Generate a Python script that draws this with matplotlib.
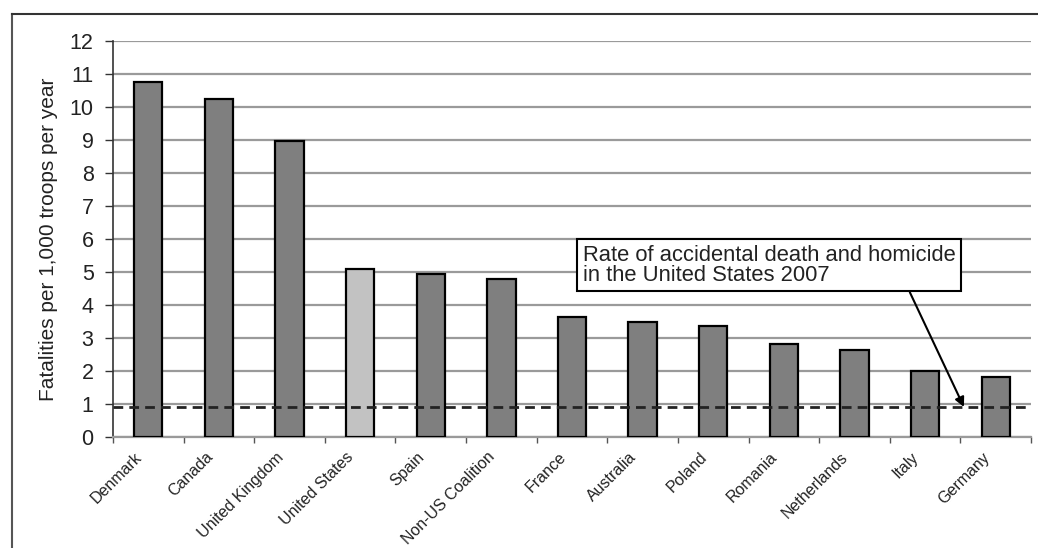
import matplotlib
matplotlib.use("Agg")
import matplotlib.pyplot as plt
from matplotlib.lines import Line2D
import matplotlib.transforms as mtransforms
import numpy as np

categories = ["Denmark", "Canada", "United Kingdom", "United States", "Spain",
              "Non-US Coalition", "France", "Australia", "Poland", "Romania",
              "Netherlands", "Italy", "Germany"]
values = [10.77, 10.24, 8.96, 5.10, 4.93, 4.79, 3.64, 3.48, 3.36, 2.82, 2.64, 2.00, 1.83]
highlight = "United States"
reference_rate = 0.91
yticks = list(range(0, 13))
ylabel = "Fatalities per 1,000 troops per year"
note = "Rate of accidental death and homicide\nin the United States 2007"

plt.rcParams['font.family'] = ['Liberation Sans', 'DejaVu Sans']

fig = plt.figure(figsize=(10.38, 5.48), dpi=100)
ax = fig.add_axes([113/1038, 1-437/548, (1031-113)/1038, (437-41)/548])

x = np.arange(len(categories))
colors = ['#c2c2c2' if c == highlight else '#7f7f7f' for c in categories]
ax.bar(x, values, width=0.4, color=colors, edgecolor='black', linewidth=1.6, zorder=3)

ax.set_xlim(-0.5, len(categories) - 0.5)
ax.set_ylim(0, 12)
ax.set_yticks(yticks)
ax.set_yticklabels([str(t) for t in yticks], fontsize=15.5, color='#222222')
ax.yaxis.grid(True, color='#9a9a9a', linewidth=1.6, zorder=0)
ax.set_axisbelow(True)

ax.set_xticks(x)
ax.set_xticklabels(categories, rotation=45, ha='right', rotation_mode='anchor',
                   fontsize=11.5, color='#222222')
ax.tick_params(axis='x', length=0, pad=9)
offset = mtransforms.ScaledTranslation(-14/100, 0, fig.dpi_scale_trans)
for lab in ax.get_xticklabels():
    lab.set_transform(lab.get_transform() + offset)
ax.set_xticks(np.arange(-0.5, len(categories) + 0.5, 1), minor=True)
ax.tick_params(axis='x', which='minor', length=4, width=1, color='#555555', direction='out')
ax.tick_params(axis='y', length=6, width=1, color='#333333', pad=8)

for s in ['top', 'right']:
    ax.spines[s].set_visible(False)
ax.spines['bottom'].set_color('#9a9a9a')
ax.spines['bottom'].set_linewidth(1.6)
ax.spines['left'].set_color('#333333')
ax.spines['left'].set_linewidth(1.2)

ax.set_ylabel(ylabel, fontsize=15, color='#222222', labelpad=8)

ax.axhline(reference_rate, color='#222222', linestyle=(0, (3.5, 2.2)), linewidth=2, zorder=4)

ax.annotate(note, xy=(11.55, reference_rate), xytext=(6.15, 5.2),
            fontsize=15.8, color='#222222', ha='left', va='center', linespacing=0.95,
            bbox=dict(boxstyle='square,pad=0.25', fc='white', ec='black', lw=1.5),
            arrowprops=dict(arrowstyle='-|>', color='black', lw=1.5,
                            mutation_scale=14, shrinkA=0, shrinkB=0,
                            relpos=(0.87, 0.0)),
            zorder=5)

fig.add_artist(Line2D([12/1038, 12/1038], [0, 1-14/548], transform=fig.transFigure,
                      color='#555555', lw=1.5))
fig.add_artist(Line2D([12/1038, 1], [1-14/548, 1-14/548], transform=fig.transFigure,
                      color='#333333', lw=1.5))

fig.savefig("out.png", dpi=100)
